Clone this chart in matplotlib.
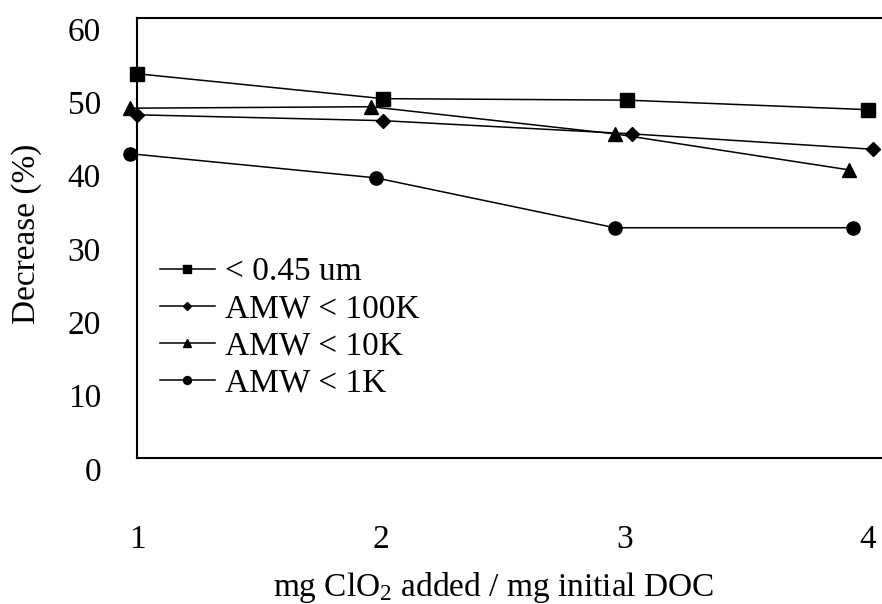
import matplotlib
matplotlib.use('Agg')
import matplotlib.pyplot as plt
import matplotlib.transforms as mtransforms

plt.rcParams['font.family'] = ['Liberation Serif', 'DejaVu Serif']
plt.rcParams['mathtext.fontset'] = 'custom'
plt.rcParams['mathtext.rm'] = 'Liberation Serif'
plt.rcParams['mathtext.it'] = 'Liberation Serif:italic'

# dose ratio (mg ClO2 / mg initial DOC) and % decrease for each size fraction
x_045 = [1.0, 2.01, 3.01, 4.0]
y_045 = [52.4, 49.0, 48.8, 47.5]

x_100k = [1.0, 2.01, 3.03, 4.02]
y_100k = [46.8, 46.0, 44.2, 42.1]

x_10k = [0.97, 1.96, 2.96, 3.92]
y_10k = [47.7, 47.9, 44.2, 39.3]

x_1k = [0.97, 1.98, 2.96, 3.94]
y_1k = [41.5, 38.2, 31.4, 31.4]

labels = ['< 0.45 um', 'AMW < 100K', 'AMW < 10K', 'AMW < 1K']
xticks = [1, 2, 3, 4]
yticks = [0, 10, 20, 30, 40, 50, 60]

fig = plt.figure(figsize=(8.82, 6.04), dpi=100)
# axes runs off the right edge of the figure (no right border)
ax = fig.add_axes([137 / 882, 146 / 604, 760 / 882, 440 / 604])

series = [
    (x_045, y_045, 's', 9.5),
    (x_100k, y_100k, 'D', 7.5),
    (x_10k, y_10k, '^', 9.5),
    (x_1k, y_1k, 'o', 9.5),
]
for (xs, ys, m, ms), lab in zip(series, labels):
    ax.plot(xs, ys, color='black', lw=1.1, marker=m, ms=ms,
            markerfacecolor='black', markeredgecolor='black', label=lab,
            clip_on=False)

ax.set_xlim(1, 1 + 760 / 243.7)
ax.set_ylim(0, 60)
ax.set_xticks(xticks)
ax.set_yticks(yticks)

ax.spines['right'].set_visible(False)
for side in ['left', 'top', 'bottom']:
    ax.spines[side].set_linewidth(1.5)

ax.tick_params(axis='both', length=0, labelsize=24)
ax.tick_params(axis='y', pad=26)
ax.tick_params(axis='x', pad=48)

# y tick labels sit a little below their grid values
shift = mtransforms.ScaledTranslation(0, -11 / 100, fig.dpi_scale_trans)
for t in ax.get_yticklabels():
    t.set_transform(t.get_transform() + shift)

ax.set_ylabel('Decrease (%)', fontsize=24)
ax.yaxis.set_label_coords(42 / 882, 1 - 234 / 604, transform=fig.transFigure)
ax.set_xlabel(r'mg ClO$_2$ added / mg initial DOC', fontsize=24)
ax.xaxis.set_label_coords(494 / 882, 1 - 570 / 604, transform=fig.transFigure)

ax.legend(loc='upper left', bbox_to_anchor=(143 / 882, 1 - 240 / 604),
          bbox_transform=fig.transFigure, frameon=False, fontsize=24,
          handlelength=1.65, handletextpad=0.3, labelspacing=0.2,
          borderpad=0, markerscale=0.6)

fig.savefig('out.png', dpi=100)
